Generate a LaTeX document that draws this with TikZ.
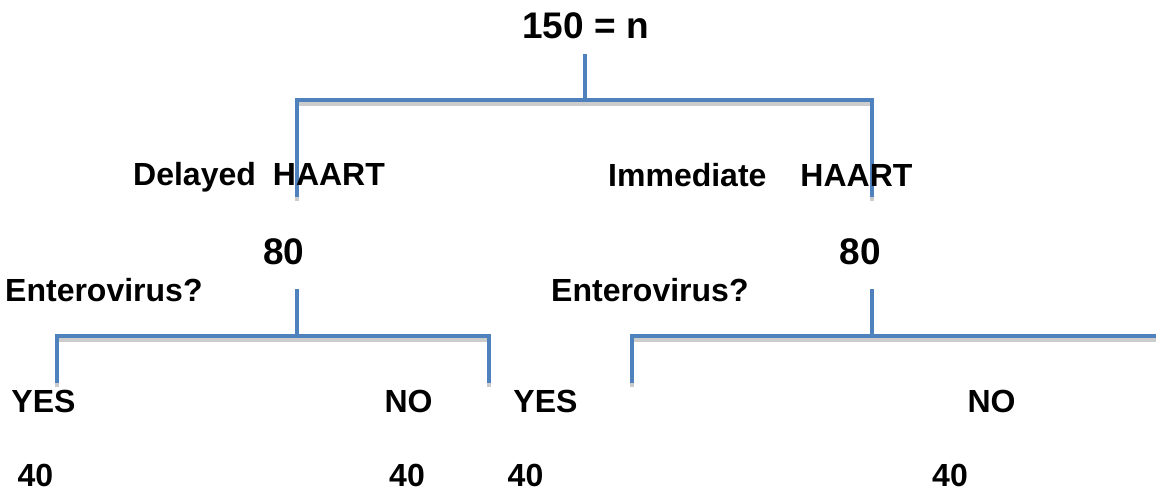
\documentclass[tikz,border=0pt]{standalone}
\usepackage{fontspec}
\setmainfont{Liberation Sans}
\usepackage{tikz}

\definecolor{barblue}{HTML}{4F81BD}
\definecolor{barshade}{HTML}{CCCCCC}

\begin{document}
\begin{tikzpicture}[x=1pt, y=-1pt]

  \tikzset{
  bar/.style = {draw = barblue, line width = 4.5pt},
  barshadow/.style = {draw = barshade, line width = 4pt,
  transform canvas = {yshift=-4pt}},
  word/.style = {font = \fontsize{32}{32}\selectfont\bfseries,
  inner sep = 0pt},
  total/.style = {font = \fontsize{37}{37}\selectfont\bfseries,
  inner sep = 0pt}}

  \useasboundingbox (0,0) rectangle (1156,491);

  % top split
  \coordinate (T0) at (585,54);
  \coordinate (T1) at (585,100);
  \coordinate (TL) at (297,100);
  \coordinate (TR) at (872,100);
  \coordinate (TLb) at (297,197);
  \coordinate (TRb) at (872,197);

  % delayed split
  \coordinate (L0) at (297,289);
  \coordinate (L1) at (297,336);
  \coordinate (LL) at (57,336);
  \coordinate (LR) at (489,336);
  \coordinate (LLb) at (57,383);
  \coordinate (LRb) at (489,383);

  % immediate split
  \coordinate (R0) at (872,289);
  \coordinate (R1) at (872,336);
  \coordinate (RL) at (632,336);
  \coordinate (RR) at (1160,336);
  \coordinate (RLb) at (632,383);

  \foreach \s in {barshadow, bar} {
    \draw[\s] (T0) -- (T1);
    \draw[\s] (TLb) -- (TL) -- (TR) -- (TRb);
    \draw[\s] (L0) -- (L1);
    \draw[\s] (LLb) -- (LL) -- (LR) -- (LRb);
    \draw[\s] (R0) -- (R1);
    \draw[\s] (RLb) -- (RL) -- (RR);
  };

  \node[total, anchor=base] (root) at (585.5,38) {150 = n};

  \node[word, anchor=base west] (delayed) at (133,185)
    {Delayed\hspace{17pt}HAART};
  \node[word, anchor=base west] (immediate) at (608,186)
    {Immediate\hspace{34pt}HAART};

  \node[total, anchor=base] (D80) at (284,264) {80};
  \node[total, anchor=base] (I80) at (860.5,264) {80};

  \node[word, anchor=base west] (Dvirus) at (5,301) {Enterovirus?};
  \node[word, anchor=base west] (Ivirus) at (551,301) {Enterovirus?};

  \node[word, anchor=base] (Dyes) at (43.5,412) {YES};
  \node[word, anchor=base] (Dno) at (408.5,412) {NO};
  \node[word, anchor=base] (Iyes) at (545.5,412) {YES};
  \node[word, anchor=base] (Ino) at (991.5,412) {NO};

  \node[word, anchor=base] (Dyes40) at (35.5,486) {40};
  \node[word, anchor=base] (Dno40) at (407,486) {40};
  \node[word, anchor=base] (Iyes40) at (525.5,486) {40};
  \node[word, anchor=base] (Ino40) at (950,486) {40};
\end{tikzpicture}
\end{document}
